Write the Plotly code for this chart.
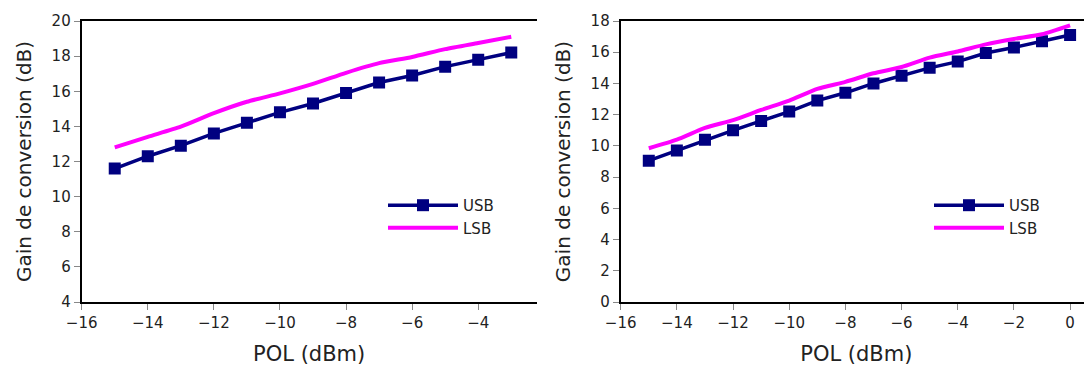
import plotly.graph_objects as go

# Left chart data
x_left = [-15, -14, -13, -12, -11, -10, -9, -8, -7, -6, -5, -4, -3]
usb_left = [11.6, 12.3, 12.9, 13.6, 14.2, 14.8, 15.3, 15.9, 16.5, 16.9, 17.4, 17.8, 18.2]
lsb_left = [12.8, 13.4, 13.98, 14.75, 15.4, 15.88, 16.42, 17.05, 17.6, 17.95, 18.4, 18.75, 19.1]

# Right chart data
x_right = [-15, -14, -13, -12, -11, -10, -9, -8, -7, -6, -5, -4, -3, -2, -1, 0]
usb_right = [9.05, 9.7, 10.4, 11.0, 11.6, 12.2, 12.9, 13.4, 14.0, 14.5, 15.0, 15.4, 15.95, 16.3, 16.7, 17.1]
lsb_right = [9.85, 10.4, 11.15, 11.65, 12.3, 12.9, 13.65, 14.1, 14.65, 15.05, 15.65, 16.05, 16.5, 16.85, 17.15, 17.72]

yticks_left = [4, 6, 8, 10, 12, 14, 16, 18, 20]
yticks_right = [0, 2, 4, 6, 8, 10, 12, 14, 16, 18]
xticks_left = [-16, -14, -12, -10, -8, -6, -4]
xticks_right = [-16, -14, -12, -10, -8, -6, -4, -2, 0]

NAVY = "#000080"
MAGENTA = "#FF00FF"
FONT = "DejaVu Sans"
OFF = 8  # page body margin
W, H = 1092 - OFF, 371 - OFF

fig = go.Figure()

fig.add_trace(go.Scatter(x=x_left, y=usb_left, name="USB", mode="lines+markers",
                         line=dict(color=NAVY, width=3.5),
                         marker=dict(symbol="square", size=12, color=NAVY),
                         xaxis="x", yaxis="y", legend="legend"))
fig.add_trace(go.Scatter(x=x_left, y=lsb_left, name="LSB", mode="lines",
                         line=dict(color=MAGENTA, width=4, shape="spline", smoothing=0.6),
                         xaxis="x", yaxis="y", legend="legend"))
fig.add_trace(go.Scatter(x=x_right, y=usb_right, name="USB", mode="lines+markers",
                         line=dict(color=NAVY, width=3.5),
                         marker=dict(symbol="square", size=12, color=NAVY),
                         xaxis="x2", yaxis="y2", legend="legend2"))
fig.add_trace(go.Scatter(x=x_right, y=lsb_right, name="LSB", mode="lines",
                         line=dict(color=MAGENTA, width=4, shape="spline", smoothing=0.6),
                         xaxis="x2", yaxis="y2", legend="legend2"))

axis_common = dict(showgrid=False, zeroline=False, showline=True, linecolor="black",
                   linewidth=2, ticks="outside", ticklen=6, tickcolor="#888888",
                   tickwidth=1, automargin=False,
                   tickfont=dict(family=FONT, size=15, color="#222222"))

mt = 20.7 - OFF
mb = H - (302.3 - OFF)
ph = H - mt - mb
title_font = dict(family=FONT, size=20, color="#222222")
xtitle_font = dict(family=FONT, size=21, color="#222222")

fig.update_layout(
    width=W, height=H,
    margin=dict(l=0, r=0, t=mt, b=mb, pad=0),
    paper_bgcolor="white", plot_bgcolor="white",
    font=dict(family=FONT, color="#222222"),
    showlegend=True,
    xaxis=dict(domain=[(81.7 - OFF) / W, (536.7 - OFF) / W], range=[-16, -2.23], tickvals=xticks_left,
               ticktext=[f"\u2212{abs(v)}" for v in xticks_left], mirror=True,
               title=dict(text="POL (dBm)", font=xtitle_font),
               anchor="y", **axis_common),
    yaxis=dict(domain=[0, 1], range=[4, 20], tickvals=yticks_left,
               title=dict(text="Gain de conversion (dB)", font=title_font),
               anchor="x", **axis_common),
    xaxis2=dict(domain=[(620.7 - OFF) / W, 1.0], range=[-16, 0.78], tickvals=xticks_right,
                ticktext=[(f"\u2212{abs(v)}" if v < 0 else str(v)) for v in xticks_right], mirror=True,
                title=dict(text="POL (dBm)", font=xtitle_font),
                anchor="y2", **axis_common),
    yaxis2=dict(domain=[0, 1], range=[0, 18], tickvals=yticks_right,
                title=dict(text="Gain de conversion (dB)", font=title_font),
                anchor="x2", **axis_common),
    legend=dict(x=(383 - OFF) / W, y=1 - (189 - 20.7) / ph, xanchor="left", yanchor="top",
                bgcolor="rgba(0,0,0,0)", font=dict(family=FONT, size=15, color="#222222"),
                itemwidth=70, tracegroupgap=0),
    legend2=dict(x=(929 - OFF) / W, y=1 - (189 - 20.7) / ph, xanchor="left", yanchor="top",
                 bgcolor="rgba(0,0,0,0)", font=dict(family=FONT, size=15, color="#222222"),
                 itemwidth=70, tracegroupgap=0),
)

fig.write_html("out.html")
